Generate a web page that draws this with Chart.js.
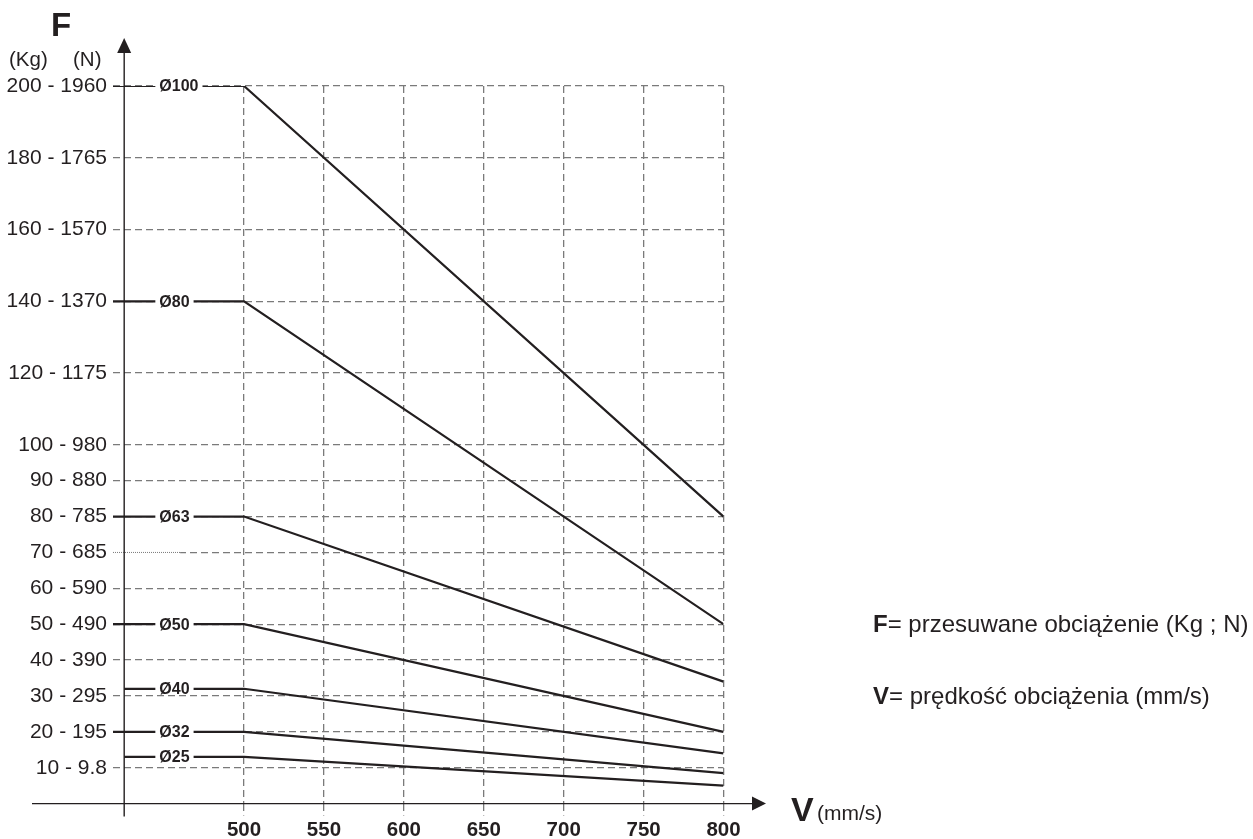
<!DOCTYPE html>
<html>
<head>
<meta charset="utf-8">
<script src="https://cdn.jsdelivr.net/npm/chart.js@4"></script>
<style>
  html, body { margin: 0; padding: 0; background: #fff; }
  canvas { display: block; }
</style>
</head>
<body>
<canvas id="chart" width="1253" height="839"></canvas>
<script>
// cylinder bores and their force (Kg) at start / knee and at 800 mm/s
var bores = ['Ø100', 'Ø80', 'Ø63', 'Ø50', 'Ø40', 'Ø32', 'Ø25'];
var forceStart = [200, 140, 80, 50, 32, 20, 13];
var forceEnd = [80, 50, 34, 20, 14, 8.5, 5];
var speedStart = [418, 418, 418, 418, 425, 418, 425];
var speedKnee = 500;
var speedEnd = 800;

var speedTicks = [500, 550, 600, 650, 700, 750, 800];
var kgTicks = [10, 20, 30, 40, 50, 60, 70, 80, 90, 100, 120, 140, 160, 180, 200];
var newtonLabels = ['9.8', '195', '295', '390', '490', '590', '685', '785', '880', '980', '1175', '1370', '1570', '1765', '1960'];

var axisSpeed = 425;   // where the F axis stands
var labelSpeed = 447;  // where the bore labels start
var dottedKg = 70;     // this grid line starts dotted

var ink = '#231f20';
var gridGrey = '#7a7a7a';
var fam = "'Liberation Sans', Arial, Helvetica, sans-serif";
Chart.defaults.font.family = fam;

var datasets = bores.map(function (name, i) {
    return {
        label: name,
        data: [
            { x: speedStart[i], y: forceStart[i] },
            { x: speedKnee, y: forceStart[i] },
            { x: speedEnd, y: forceEnd[i] }
        ],
        showLine: true,
        tension: 0,
        pointRadius: 0,
        borderColor: ink,
        borderWidth: 2.2
    };
});

var decor = {
    id: 'decor',
    beforeDatasetsDraw: function (chart) {
        // the 70 line is dotted on its left part
        var ctx = chart.ctx;
        var xs = chart.scales.x, ys = chart.scales.y;
        var y = ys.getPixelForValue(dottedKg);
        var a = chart.chartArea.left, b = xs.getPixelForValue(460);
        ctx.save();
        ctx.fillStyle = '#fff';
        ctx.fillRect(a, y - 1.5, b - a, 3);
        ctx.strokeStyle = gridGrey;
        ctx.lineWidth = 1;
        ctx.setLineDash([1, 1]);
        ctx.beginPath();
        ctx.moveTo(a, y);
        ctx.lineTo(b, y);
        ctx.stroke();
        ctx.restore();
    },
    afterDatasetsDraw: function (chart) {
        var ctx = chart.ctx;
        var xs = chart.scales.x, ys = chart.scales.y;
        var x0 = xs.getPixelForValue(axisSpeed);
        var y0 = ys.getPixelForValue(0);
        ctx.save();

        // bore labels on the flat parts
        ctx.font = 'bold 16px ' + fam;
        ctx.textBaseline = 'middle';
        ctx.textAlign = 'left';
        bores.forEach(function (name, i) {
            var lx = xs.getPixelForValue(labelSpeed);
            var ly = ys.getPixelForValue(forceStart[i]);
            var w = ctx.measureText(name).width;
            ctx.fillStyle = '#fff';
            ctx.fillRect(lx - 4, ly - 6, w + 8, 12);
            ctx.fillStyle = ink;
            ctx.fillText(name, lx, ly + 1);
        });

        // axes with arrows
        ctx.strokeStyle = ink;
        ctx.fillStyle = ink;
        ctx.lineWidth = 1.4;
        ctx.beginPath();
        ctx.moveTo(32, y0);
        ctx.lineTo(756, y0);
        ctx.moveTo(x0, y0 + 13);
        ctx.lineTo(x0, 50);
        ctx.stroke();
        ctx.beginPath();
        ctx.moveTo(766, y0);
        ctx.lineTo(752, y0 - 7);
        ctx.lineTo(752, y0 + 7);
        ctx.closePath();
        ctx.fill();
        ctx.beginPath();
        ctx.moveTo(x0, 38);
        ctx.lineTo(x0 - 7, 53);
        ctx.lineTo(x0 + 7, 53);
        ctx.closePath();
        ctx.fill();

        // axis titles
        ctx.textBaseline = 'alphabetic';
        ctx.font = 'bold 33px ' + fam;
        ctx.fillText('F', 51, 36);
        ctx.font = 'bold 34px ' + fam;
        ctx.fillText('V', 791, 821);
        ctx.font = '20.5px ' + fam;
        ctx.fillText('(Kg)', 9, 66);
        ctx.fillText('(N)', 73, 66);
        ctx.font = '21px ' + fam;
        ctx.fillText('(mm/s)', 817, 820);

        // explanation on the right
        var rows = [['F', '= przesuwane obciążenie (Kg ; N)', 632], ['V', '= prędkość obciążenia (mm/s)', 704]];
        rows.forEach(function (r) {
            ctx.font = 'bold 24px ' + fam;
            ctx.fillText(r[0], 873, r[2]);
            var w = ctx.measureText(r[0]).width;
            ctx.font = '24px ' + fam;
            ctx.fillText(r[1], 873 + w, r[2]);
        });
        ctx.restore();
    }
};

new Chart(document.getElementById('chart'), {
    type: 'scatter',
    data: { datasets: datasets },
    options: {
        responsive: false,
        animation: false,
        layout: { padding: { left: 0, top: 86, right: 529.5, bottom: 0 } },
        plugins: { legend: { display: false }, tooltip: { enabled: false } },
        scales: {
            x: {
                type: 'linear',
                min: 418,
                max: 800,
                afterBuildTicks: function (scale) {
                    scale.ticks = speedTicks.map(function (v) { return { value: v }; });
                },
                afterFit: function (scale) { scale.height = 35.4; },
                grid: {
                    color: gridGrey,
                    lineWidth: 1.3,
                    drawTicks: true,
                    tickLength: 12,
                    tickColor: gridGrey,
                    tickWidth: 1.3,
                    tickBorderDash: [7, 4]
                },
                border: { display: false, dash: [7, 4] },
                ticks: {
                    padding: 2,
                    autoSkip: false,
                    maxRotation: 0,
                    color: ink,
                    font: { size: 20.5, weight: 'bold' },
                    callback: function (v) { return String(v); }
                }
            },
            y: {
                min: 0,
                max: 200,
                afterBuildTicks: function (scale) {
                    scale.ticks = kgTicks.map(function (v) { return { value: v }; });
                },
                afterFit: function (scale) { scale.width = 113; },
                grid: { color: gridGrey, lineWidth: 1.3, drawTicks: false },
                border: { display: false, dash: [7, 4] },
                ticks: {
                    padding: 6,
                    autoSkip: false,
                    color: ink,
                    font: { size: 21 },
                    callback: function (v, i) { return kgTicks[i] + ' - ' + newtonLabels[i]; }
                }
            }
        }
    },
    plugins: [decor]
});
</script>
</body>
</html>
